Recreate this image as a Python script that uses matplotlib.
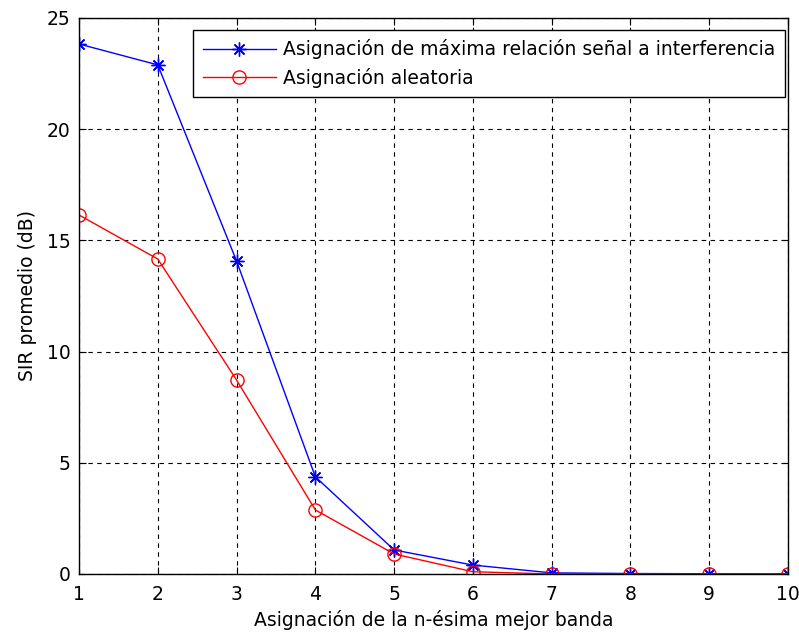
import matplotlib.pyplot as plt

plt.rcParams['font.family'] = ['DejaVu Sans']

bandas = [1, 2, 3, 4, 5, 6, 7, 8, 9, 10]
sir_max = [23.83, 22.89, 14.07, 4.37, 1.08, 0.40, 0.05, 0.02, 0.01, 0.0]
sir_aleatoria = [16.14, 14.16, 8.72, 2.88, 0.90, 0.10, 0.0, 0.0, 0.0, 0.0]

fig = plt.figure(figsize=(7.99, 6.35), dpi=100)
ax = fig.add_axes([0.0989, 0.0961, 0.8873, 0.8756])

ax.plot(bandas, sir_max, color='blue', marker=(8, 2, 0), markersize=10, lw=1,
        mew=1, label='Asignación de máxima relación señal a interferencia')
ax.plot(bandas, sir_aleatoria, color='red', marker='o', markersize=9.5, lw=1,
        markerfacecolor='none', label='Asignación aleatoria')

ax.set_xlim(1, 10)
ax.set_ylim(0, 25)
ax.set_xticks(bandas)
ax.set_yticks([0, 5, 10, 15, 20, 25])
ax.grid(True, color='black', linestyle=(0, (4, 4)), lw=0.8)
ax.tick_params(direction='in', top=True, right=True, labelsize=13.5, length=5)
ax.tick_params(axis='x', pad=8)
ax.tick_params(axis='y', pad=6)
for s in ax.spines.values():
    s.set_linewidth(1)

ax.set_xlabel('Asignación de la n-ésima mejor banda', fontsize=13.5, labelpad=4)
ax.set_ylabel('SIR promedio (dB)', fontsize=13.5, labelpad=7)

leg = ax.legend(loc='upper right', fontsize=13.5, fancybox=False, framealpha=1,
                edgecolor='black', bbox_to_anchor=(785 / 799, 605 / 635),
                bbox_transform=fig.transFigure, borderaxespad=0,
                handlelength=3.9, handletextpad=0.4, borderpad=0.5,
                labelspacing=0.45)
leg.get_frame().set_linewidth(1)

fig.savefig('out.png')
